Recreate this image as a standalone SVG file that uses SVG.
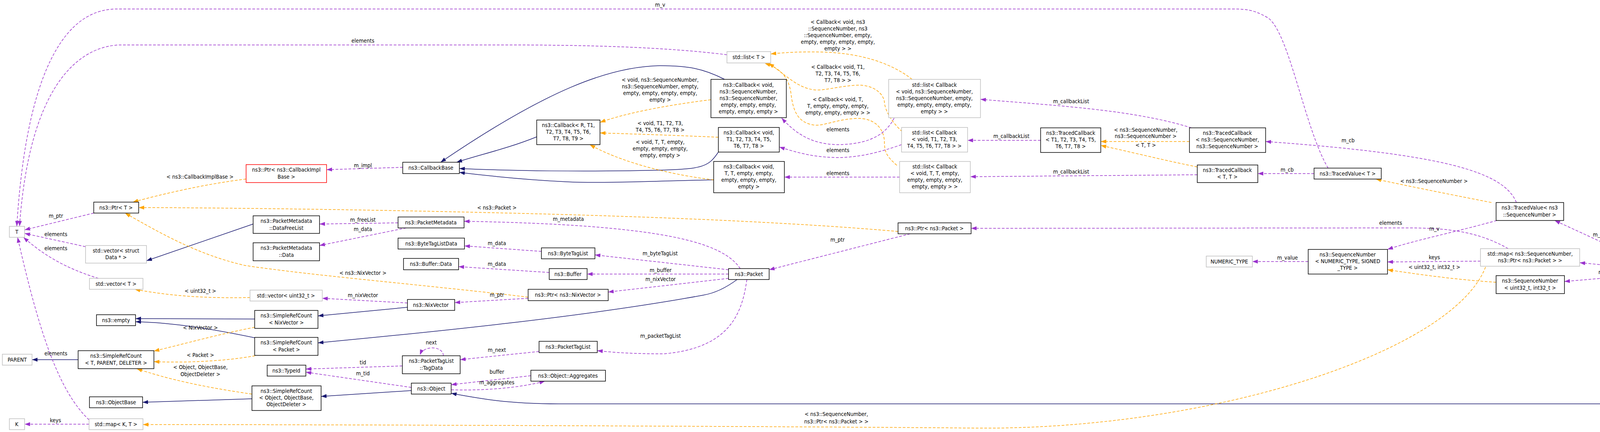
<svg xmlns="http://www.w3.org/2000/svg" width="4339" height="1105" viewBox="0 0 4339 1105">
<style>
text{font-family:"DejaVu Sans Condensed","DejaVu Sans",sans-serif;font-size:14px;fill:#000;text-anchor:middle}
.n{fill:#fff;stroke:#000;stroke-width:1.5}
.g{fill:#fff;stroke:#bfbfbf;stroke-width:1.5}
.r{fill:#fff;stroke:#ff0000;stroke-width:1.5}
.s{fill:#bfbfbf;stroke:#000;stroke-width:1.5}
.b{fill:none;stroke:#191970;stroke-width:1.5;marker-end:url(#mb)}
.p{fill:none;stroke:#9a32cd;stroke-width:1.5;stroke-dasharray:7,4;marker-end:url(#mp)}
.o{fill:none;stroke:#ffa500;stroke-width:1.5;stroke-dasharray:7,4;marker-end:url(#mo)}
</style>
<defs>
<marker id="mb" markerUnits="userSpaceOnUse" markerWidth="16" markerHeight="12" refX="14" refY="5" orient="auto"><path d="M0,0 L14,5 L0,10 z" fill="#191970"/></marker>
<marker id="mp" markerUnits="userSpaceOnUse" markerWidth="16" markerHeight="12" refX="14" refY="5" orient="auto"><path d="M0,0 L14,5 L0,10 z" fill="#9a32cd"/></marker>
<marker id="mo" markerUnits="userSpaceOnUse" markerWidth="16" markerHeight="12" refX="14" refY="5" orient="auto"><path d="M0,0 L14,5 L0,10 z" fill="#ffa500"/></marker>
</defs>
<rect width="4339" height="1105" fill="#fff"/>
<g id="connectors">
<path class="b" d="M648,573 L375,667"/>
<path class="b" d="M652,816 L347,815"/>
<path class="b" d="M652,864 C560,845 450,825 347,823"/>
<path class="b" d="M200,920 L82,920"/>
<path class="b" d="M645,1020 L365,1029"/>
<path class="b" d="M1043,786 L814,808"/>
<path class="b" d="M1887,715 C1860,735 1830,750 1800,755 C1500,810 1100,850 814,877"/>
<path class="b" d="M1053,999 L822,1014"/>
<path class="b" d="M4257,707 C4235,830 4210,1000 4100,1033 L1430,1033 C1300,1033 1230,1020 1155,1006"/>
<path class="b" d="M1855,203 C1800,175 1760,168 1690,168 C1560,170 1400,230 1128,415"/>
<path class="b" d="M1374,350 C1300,380 1230,395 1169,415"/>
<path class="b" d="M1839,389 C1815,425 1800,432 1700,435 C1500,440 1300,437 1176,431"/>
<path class="b" d="M1827,460 C1700,462 1550,470 1450,465 C1350,460 1250,450 1176,441"/>

<path class="o" d="M630,458 C530,470 420,495 340,517"/>
<path class="o" d="M2299,592 C2100,575 1800,557 1300,545 C900,535 500,531 355,531"/>
<path class="o" d="M1352,760 C1100,730 800,705 627,679 C500,650 400,590 320,545"/>
<path class="o" d="M640,761 C550,763 450,760 345,740"/>
<path class="o" d="M652,837 C560,855 470,880 394,898"/>
<path class="o" d="M653,910 C570,925 470,928 394,925"/>
<path class="o" d="M645,1008 C520,990 430,970 350,943"/>
<path class="o" d="M3803,683 C3720,900 3100,1100 2500,1095 C2200,1092 1000,1086 366,1086"/>
<path class="o" d="M1820,255 C1700,270 1600,290 1536,313"/>
<path class="o" d="M1839,351 C1700,345 1600,342 1536,340"/>
<path class="o" d="M1827,460 C1700,445 1580,410 1510,370"/>
<path class="o" d="M2335,203 C2280,160 2200,135 2100,133 C2050,132 2010,134 1973,138"/>
<path class="o" d="M2310,337 C2280,310 2265,280 2264,260 C2260,235 2230,215 2190,218 C2140,222 2110,232 2086,230 C2040,225 2010,190 1968,162"/>
<path class="o" d="M2296,423 C2270,400 2264,390 2264,360 C2262,330 2240,300 2190,303 C2140,306 2110,322 2086,320 C2040,315 2030,280 2025,240 C2020,200 2000,175 1958,162"/>
<path class="o" d="M3045,362 L2818,362"/>
<path class="o" d="M3065,427 C2980,410 2900,390 2818,372"/>
<path class="o" d="M3818,518 C3700,495 3600,475 3522,458"/>
<path class="o" d="M3830,722 C3720,715 3620,700 3552,690"/>

<path class="p" d="M240,545 L63,588"/>
<path class="p" d="M219,631 L63,597"/>
<path class="p" d="M252,712 C180,690 120,660 60,607"/>
<path class="p" d="M228,1074 C150,1000 100,850 45,607"/>
<path class="p" d="M228,1085 L63,1085"/>
<path class="p" d="M3400,430 C3340,330 3300,80 3245,45 C3210,25 3190,23 3157,23 L300,23 C230,23 75,60 43,579"/>
<path class="p" d="M3861,636 C3780,590 3700,583 3600,583 L2486,584"/>
<path class="p" d="M3832,564 C3700,600 3620,615 3552,638"/>
<path class="p" d="M1861,140 C1700,120 1500,115 1300,115 L310,115 C250,115 80,150 50,579"/>
<path class="p" d="M2289,302 C2270,340 2230,370 2142,370 C2080,368 2040,345 2001,302"/>
<path class="p" d="M2308,370 C2250,390 2200,403 2142,403 C2080,402 2040,390 1995,376"/>
<path class="p" d="M2303,453 L2008,453"/>
<path class="p" d="M3050,327 C2900,280 2700,270 2510,254"/>
<path class="p" d="M2664,359 L2477,359"/>
<path class="p" d="M3065,447 L2484,452"/>
<path class="p" d="M3882,518 C3850,440 3700,395 3240,362"/>
<path class="p" d="M3364,444 L3220,444"/>
<path class="p" d="M1031,428 L836,434"/>
<path class="p" d="M1019,570 L818,573"/>
<path class="p" d="M1040,583 L818,628"/>
<path class="p" d="M1386,643 L1189,629"/>
<path class="p" d="M1406,697 L1174,682"/>
<path class="p" d="M1352,763 L1164,774"/>
<path class="p" d="M1043,775 L825,763"/>
<path class="p" d="M1895,687 C1850,620 1700,575 1188,566"/>
<path class="p" d="M1865,690 L1523,652"/>
<path class="p" d="M1865,701 L1503,701"/>
<path class="p" d="M1865,712 L1557,747"/>
<path class="p" d="M1912,715 C1900,800 1870,890 1700,905 C1600,905 1560,900 1529,897"/>
<path class="p" d="M1380,899 L1178,920"/>
<path class="p" d="M1135,910 C1135,885 1085,882 1075,908"/>
<path class="p" d="M1030,936 L783,944"/>
<path class="p" d="M1053,991 L783,952"/>
<path class="p" d="M1359,961 L1155,984"/>
<path class="p" d="M1155,997 C1250,1000 1340,990 1395,975"/>
<path class="p" d="M2330,598 L1969,690"/>
<path class="p" d="M3790,668 L3552,670"/>
<path class="p" d="M3349,669 L3206,669"/>
<path class="p" d="M4230,679 L3980,564"/>
<path class="p" d="M4194,686 L4044,672"/>
<path class="p" d="M4194,704 L4005,720"/>

<g id="edge-labels">
<text x="512" y="457">&lt; ns3::CallbackImplBase &gt;</text>
<text x="143" y="557">m_ptr</text>
<text x="143" y="604">elements</text>
<text x="143" y="640">elements</text>
<text x="513" y="749">&lt; uint32_t &gt;</text>
<text x="513" y="843">&lt; NixVector &gt;</text>
<text x="143" y="909">elements</text>
<text x="513" y="913">&lt; Packet &gt;</text>
<text x="513" y="944">&lt; Object, ObjectBase,</text>
<text x="513" y="962">ObjectDeleter &gt;</text>
<text x="142" y="1080">keys</text>
<text x="929" y="428">m_impl</text>
<text x="929" y="567">m_freeList</text>
<text x="929" y="591">m_data</text>
<text x="1272" y="536">&lt; ns3::Packet &gt;</text>
<text x="1455" y="565">m_metadata</text>
<text x="1272" y="627">m_data</text>
<text x="1690" y="653">m_byteTagList</text>
<text x="1272" y="680">m_data</text>
<text x="1691" y="696">m_buffer</text>
<text x="1691" y="719">m_nixVector</text>
<text x="929" y="703">&lt; ns3::NixVector &gt;</text>
<text x="929" y="760">m_nixVector</text>
<text x="1272" y="759">m_ptr</text>
<text x="1691" y="864">m_packetTagList</text>
<text x="1104" y="881">next</text>
<text x="1272" y="900">m_next</text>
<text x="929" y="932">tid</text>
<text x="1272" y="956">buffer</text>
<text x="929" y="960">m_tid</text>
<text x="1272" y="983">m_aggregates</text>
<text x="2144" y="618">m_ptr</text>
<text x="2141" y="1064">&lt; ns3::SequenceNumber,</text>
<text x="2141" y="1083">ns3::Ptr&lt; ns3::Packet &gt; &gt;</text>
<text x="1690" y="17">m_v</text>
<text x="929" y="109">elements</text>
<text x="2145" y="61">&lt; Callback&lt; void, ns3</text>
<text x="2145" y="78">::SequenceNumber, ns3</text>
<text x="2145" y="95">::SequenceNumber, empty,</text>
<text x="2145" y="112">empty, empty, empty, empty,</text>
<text x="2145" y="129">empty &gt; &gt;</text>
<text x="2145" y="176">&lt; Callback&lt; void, T1,</text>
<text x="2145" y="193">T2, T3, T4, T5, T6,</text>
<text x="2145" y="210">T7, T8 &gt; &gt;</text>
<text x="2145" y="259">&lt; Callback&lt; void, T,</text>
<text x="2145" y="276">T, empty, empty, empty,</text>
<text x="2145" y="293">empty, empty, empty &gt; &gt;</text>
<text x="2145" y="336">elements</text>
<text x="2145" y="389">elements</text>
<text x="2145" y="448">elements</text>
<text x="1690" y="209">&lt; void, ns3::SequenceNumber,</text>
<text x="1690" y="226">ns3::SequenceNumber, empty,</text>
<text x="1690" y="243">empty, empty, empty, empty,</text>
<text x="1690" y="260">empty &gt;</text>
<text x="1690" y="320">&lt; void, T1, T2, T3,</text>
<text x="1690" y="337">T4, T5, T6, T7, T8 &gt;</text>
<text x="1690" y="368">&lt; void, T, T, empty,</text>
<text x="1690" y="385">empty, empty, empty,</text>
<text x="1690" y="402">empty, empty &gt;</text>
<text x="2742" y="264">m_callbackList</text>
<text x="2589" y="353">m_callbackList</text>
<text x="2933" y="337">&lt; ns3::SequenceNumber,</text>
<text x="2933" y="353">ns3::SequenceNumber &gt;</text>
<text x="2933" y="376">&lt; T, T &gt;</text>
<text x="2742" y="444">m_callbackList</text>
<text x="3451" y="364">m_cb</text>
<text x="3295" y="439">m_cb</text>
<text x="3671" y="468">&lt; ns3::SequenceNumber &gt;</text>
<text x="3560" y="575">elements</text>
<text x="3672" y="590">m_v</text>
<text x="4121" y="605">m_nextRxSeq</text>
<text x="3296" y="664">m_value</text>
<text x="3672" y="663">keys</text>
<text x="3672" y="688">&lt; uint32_t, int32_t &gt;</text>
<text x="4121" y="669">m_data</text>
<text x="4121" y="701">m_finSeq</text>
</g>
</g>

<g id="n-T"><rect class="g" x="24" y="579" width="39" height="28"/><text x="43" y="598">T</text></g>
<g id="n-PtrT"><rect class="n" x="240" y="517" width="115" height="28"/><text x="297" y="536">ns3::Ptr&lt; T &gt;</text></g>
<g id="n-vecData"><rect class="g" x="219" y="628" width="156" height="45"/><text x="297" y="646">std::vector&lt; struct</text><text x="297" y="663">Data * &gt;</text></g>
<g id="n-vecT"><rect class="g" x="229" y="712" width="137" height="28"/><text x="297" y="731">std::vector&lt; T &gt;</text></g>
<g id="n-empty"><rect class="n" x="247" y="805" width="100" height="28"/><text x="297" y="824">ns3::empty</text></g>
<g id="n-PARENT"><rect class="g" x="6" y="906" width="76" height="28"/><text x="44" y="925">PARENT</text></g>
<g id="n-SRC"><rect class="n" x="200" y="897" width="194" height="46"/><text x="297" y="915">ns3::SimpleRefCount</text><text x="297" y="933">&lt; T, PARENT, DELETER &gt;</text></g>
<g id="n-ObjectBase"><rect class="n" x="229" y="1015" width="136" height="28"/><text x="297" y="1034">ns3::ObjectBase</text></g>
<g id="n-K"><rect class="g" x="24" y="1071" width="39" height="28"/><text x="43" y="1090">K</text></g>
<g id="n-mapKT"><rect class="g" x="228" y="1071" width="138" height="28"/><text x="297" y="1090">std::map&lt; K, T &gt;</text></g>
<g id="n-PtrCbImpl"><rect class="r" x="630" y="421" width="206" height="46"/><text x="733" y="439">ns3::Ptr&lt; ns3::CallbackImpl</text><text x="733" y="457">Base &gt;</text></g>
<g id="n-DataFreeList"><rect class="n" x="648" y="552" width="170" height="45"/><text x="733" y="570">ns3::PacketMetadata</text><text x="733" y="588">::DataFreeList</text></g>
<g id="n-PMData"><rect class="n" x="648" y="621" width="170" height="46"/><text x="733" y="639">ns3::PacketMetadata</text><text x="733" y="657">::Data</text></g>
<g id="n-vecU32"><rect class="g" x="640" y="742" width="185" height="28"/><text x="732" y="761">std::vector&lt; uint32_t &gt;</text></g>
<g id="n-SRCNix"><rect class="n" x="652" y="794" width="162" height="46"/><text x="733" y="812">ns3::SimpleRefCount</text><text x="733" y="830">&lt; NixVector &gt;</text></g>
<g id="n-SRCPacket"><rect class="n" x="652" y="863" width="162" height="46"/><text x="733" y="881">ns3::SimpleRefCount</text><text x="733" y="899">&lt; Packet &gt;</text></g>
<g id="n-TypeId"><rect class="n" x="684" y="934" width="99" height="28"/><text x="733" y="953">ns3::TypeId</text></g>
<g id="n-SRCObj"><rect class="n" x="645" y="987" width="177" height="63"/><text x="733" y="1005">ns3::SimpleRefCount</text><text x="733" y="1022">&lt; Object, ObjectBase,</text><text x="733" y="1039">ObjectDeleter &gt;</text></g>
<g id="n-CallbackBase"><rect class="n" x="1031" y="415" width="145" height="29"/><text x="1103" y="434">ns3::CallbackBase</text></g>
<g id="n-PacketMetadata"><rect class="n" x="1019" y="555" width="169" height="28"/><text x="1103" y="574">ns3::PacketMetadata</text></g>
<g id="n-ByteTagListData"><rect class="n" x="1019" y="609" width="170" height="28"/><text x="1104" y="628">ns3::ByteTagListData</text></g>
<g id="n-BufferData"><rect class="n" x="1033" y="661" width="141" height="29"/><text x="1103" y="680">ns3::Buffer::Data</text></g>
<g id="n-ByteTagList"><rect class="n" x="1386" y="634" width="137" height="28"/><text x="1454" y="653">ns3::ByteTagList</text></g>
<g id="n-Buffer"><rect class="n" x="1406" y="687" width="97" height="28"/><text x="1454" y="706">ns3::Buffer</text></g>
<g id="n-PtrNix"><rect class="n" x="1352" y="740" width="205" height="29"/><text x="1454" y="759">ns3::Ptr&lt; ns3::NixVector &gt;</text></g>
<g id="n-NixVector"><rect class="n" x="1043" y="766" width="121" height="28"/><text x="1103" y="785">ns3::NixVector</text></g>
<g id="n-PacketTagList"><rect class="n" x="1380" y="873" width="149" height="29"/><text x="1454" y="892">ns3::PacketTagList</text></g>
<g id="n-TagData"><rect class="n" x="1030" y="910" width="148" height="46"/><text x="1104" y="928">ns3::PacketTagList</text><text x="1104" y="946">::TagData</text></g>
<g id="n-Aggregates"><rect class="n" x="1359" y="947" width="191" height="28"/><text x="1454" y="966">ns3::Object::Aggregates</text></g>
<g id="n-Object"><rect class="n" x="1053" y="980" width="102" height="28"/><text x="1104" y="999">ns3::Object</text></g>
<g id="n-Packet"><rect class="n" x="1865" y="687" width="104" height="28"/><text x="1917" y="706">ns3::Packet</text></g>
<g id="n-PtrPacket"><rect class="n" x="2299" y="570" width="187" height="28"/><text x="2392" y="589">ns3::Ptr&lt; ns3::Packet &gt;</text></g>
<g id="n-listT"><rect class="g" x="1861" y="132" width="112" height="29"/><text x="1917" y="151">std::list&lt; T &gt;</text></g>
<g id="n-CbSeq"><rect class="n" x="1820" y="203" width="193" height="98"/><text x="1916" y="222">ns3::Callback&lt; void,</text><text x="1916" y="239">ns3::SequenceNumber,</text><text x="1916" y="256">ns3::SequenceNumber,</text><text x="1916" y="273">empty, empty, empty,</text><text x="1916" y="290">empty, empty, empty &gt;</text></g>
<g id="n-CbR"><rect class="n" x="1374" y="307" width="162" height="63"/><text x="1455" y="325">ns3::Callback&lt; R, T1,</text><text x="1455" y="342">T2, T3, T4, T5, T6,</text><text x="1455" y="359">T7, T8, T9 &gt;</text></g>
<g id="n-CbT18"><rect class="n" x="1839" y="326" width="156" height="63"/><text x="1917" y="344">ns3::Callback&lt; void,</text><text x="1917" y="361">T1, T2, T3, T4, T5,</text><text x="1917" y="378">T6, T7, T8 &gt;</text></g>
<g id="n-CbTT"><rect class="n" x="1827" y="413" width="181" height="80"/><text x="1917" y="431">ns3::Callback&lt; void,</text><text x="1917" y="448">T, T, empty, empty,</text><text x="1917" y="465">empty, empty, empty,</text><text x="1917" y="482">empty &gt;</text></g>
<g id="n-listCbSeq"><rect class="g" x="2275" y="203" width="235" height="98"/><text x="2392" y="222">std::list&lt; Callback</text><text x="2392" y="239">&lt; void, ns3::SequenceNumber,</text><text x="2392" y="256">ns3::SequenceNumber, empty,</text><text x="2392" y="273">empty, empty, empty, empty,</text><text x="2392" y="290">empty &gt; &gt;</text></g>
<g id="n-listCbT18"><rect class="g" x="2308" y="326" width="169" height="63"/><text x="2392" y="344">std::list&lt; Callback</text><text x="2392" y="361">&lt; void, T1, T2, T3,</text><text x="2392" y="378">T4, T5, T6, T7, T8 &gt; &gt;</text></g>
<g id="n-listCbTT"><rect class="g" x="2303" y="413" width="181" height="80"/><text x="2393" y="431">std::list&lt; Callback</text><text x="2393" y="448">&lt; void, T, T, empty,</text><text x="2393" y="465">empty, empty, empty,</text><text x="2393" y="482">empty, empty &gt; &gt;</text></g>
<g id="n-TCb18"><rect class="n" x="2664" y="327" width="154" height="63"/><text x="2741" y="345">ns3::TracedCallback</text><text x="2741" y="362">&lt; T1, T2, T3, T4, T5,</text><text x="2741" y="379">T6, T7, T8 &gt;</text></g>
<g id="n-TCbSeq"><rect class="n" x="3045" y="327" width="195" height="63"/><text x="3142" y="345">ns3::TracedCallback</text><text x="3142" y="362">&lt; ns3::SequenceNumber,</text><text x="3142" y="379">ns3::SequenceNumber &gt;</text></g>
<g id="n-TCbTT"><rect class="n" x="3065" y="422" width="155" height="45"/><text x="3142" y="440">ns3::TracedCallback</text><text x="3142" y="457">&lt; T, T &gt;</text></g>
<g id="n-TVT"><rect class="n" x="3364" y="430" width="172" height="28"/><text x="3450" y="449">ns3::TracedValue&lt; T &gt;</text></g>
<g id="n-TVSeq"><rect class="n" x="3830" y="518" width="173" height="46"/><text x="3916" y="536">ns3::TracedValue&lt; ns3</text><text x="3916" y="554">::SequenceNumber &gt;</text></g>
<g id="n-NUMERIC"><rect class="g" x="3088" y="655" width="118" height="28"/><text x="3147" y="674">NUMERIC_TYPE</text></g>
<g id="n-SeqNum"><rect class="n" x="3349" y="638" width="203" height="63"/><text x="3450" y="656">ns3::SequenceNumber</text><text x="3450" y="673">&lt; NUMERIC_TYPE, SIGNED</text><text x="3450" y="690">_TYPE &gt;</text></g>
<g id="n-mapSeq"><rect class="g" x="3790" y="636" width="254" height="45"/><text x="3917" y="654">std::map&lt; ns3::SequenceNumber,</text><text x="3917" y="671">ns3::Ptr&lt; ns3::Packet &gt; &gt;</text></g>
<g id="n-SeqU32"><rect class="n" x="3830" y="705" width="175" height="46"/><text x="3917" y="723">ns3::SequenceNumber</text><text x="3917" y="741">&lt; uint32_t, int32_t &gt;</text></g>
<g id="n-TcpRxBuffer"><rect class="s" x="4194" y="679" width="138" height="28"/><text x="4263" y="698">ns3::TcpRxBuffer</text></g>
</svg>
